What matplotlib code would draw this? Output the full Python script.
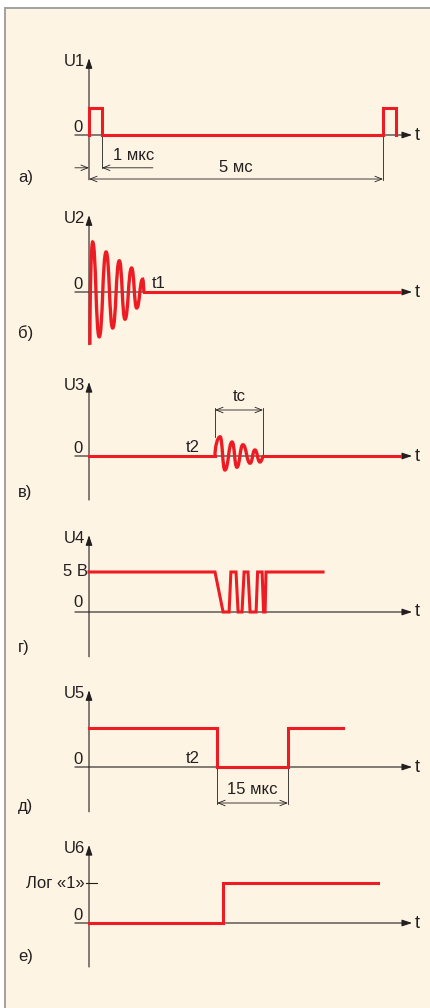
import matplotlib
matplotlib.use("Agg")
import matplotlib.pyplot as plt
from matplotlib.patches import Rectangle, PathPatch
from matplotlib.path import Path

plt.rcParams['font.family'] = ['Liberation Sans Narrow', 'Liberation Sans', 'DejaVu Sans']

W, H = 430, 1008
X0 = 89          # pixel column of the vertical axes
SX, SY = 3.0, 8.0  # pixels per time unit / per level unit
RED = '#ed1c24'
INK = '#231f20'
FS = 12

# --- data (time units, level units) ---
# a) U1 start pulses
a_t = [0, 0, 4.3, 98, 102.3]
a_v = [0, 3.4, 0, 3.4, 0]

# b) U2 decaying oscillation (extrema), then flat
b_t = [0.3, 1.2, 3.4, 5.7, 7.9, 10.1, 12.0, 14.2, 15.9, 17.9, 18.3]
b_v = [-6.6, 6.25, -5.6, 5.0, -4.5, 3.9, -3.4, 3.0, -2.0, 1.6, 0]
b_end = 103.7

# c) U3 echo burst (extrema)
c_t = [42, 43.7, 45.3, 47.7, 49.3, 51.3, 53.7, 55.3, 57, 58]
c_v = [0, 2.4, -1.75, 1.75, -1.4, 1.4, -0.9, 0.75, -0.75, 0]
c_end = 103.7

# d) U4 comparator output
d_t = [0, 42, 44.7, 46.7, 47.3, 49, 49.7, 51, 51.7, 53, 53.7, 55.7, 56.2,
       57.7, 58.2, 58.7, 59, 78]
d_v = [5, 5, 0, 0, 5, 5, 0, 0, 5, 5, 0, 0, 5, 5, 0, 0, 5, 5]

# e) U5 one-shot, 15 us
e_t = [0, 42.7, 66.3, 84.7]
e_v = [4.9, 0, 4.9, 4.9]

# f) U6 logic output
f_t = [0, 44.7, 96.3]
f_v = [0, 5, 5]

ylabels = ['U1', 'U2', 'U3', 'U4', 'U5', 'U6']
letters = ['а)', 'б)', 'в)', 'г)', 'д)', 'е)']
baselines = [135, 292, 456, 612, 767, 923]
axis_top = [9.6, 9.6, 9.25, 9.6, 9.6, 9.75]
axis_bot = [-5.6, -6.6, -5.5, -5.6, -5.6, -5.5]
letter_v = [-5.25, -5.1, -4.6, -4.4, -5.0, -4.25]

fig = plt.figure(figsize=(W / 100, H / 100), dpi=100, facecolor='white')
fig.add_artist(Rectangle((4 / W, 0), 1, 1 - 7 / H, transform=fig.transFigure,
                         facecolor='#a3a3a3', edgecolor='none', zorder=-10))
fig.add_artist(Rectangle((6 / W, 0), 1, 1 - 9 / H, transform=fig.transFigure,
                         facecolor='#fdf4e3', edgecolor='none', zorder=-9))

ARW = dict(arrowstyle='-|>,head_length=0.6,head_width=0.2', color=INK, lw=0.8,
           shrinkA=0, shrinkB=0, mutation_scale=10)
DIM = dict(arrowstyle='<->,head_length=0.5,head_width=0.2', color=INK, lw=0.6,
           shrinkA=0, shrinkB=0, mutation_scale=10)


def smooth(ax, ts, vs, k=0.5):
    verts = [(ts[0], vs[0])]
    codes = [Path.MOVETO]
    n = len(ts)
    for i in range(1, n):
        t0, v0, t1, v1 = ts[i - 1], vs[i - 1], ts[i], vs[i]
        dt = t1 - t0
        c1 = (t0 + k * dt, v0) if i > 1 else (t0, v0 + 0.5 * (v1 - v0))
        c2 = (t1 - k * dt, v1) if i < n - 1 else (t1, v1)
        verts += [c1, c2, (t1, v1)]
        codes += [Path.CURVE4] * 3
    ax.add_patch(PathPatch(Path(verts, codes), fill=False, edgecolor=RED,
                           lw=2.4, zorder=5, clip_on=False))


axes = []
for i, base in enumerate(baselines):
    ax = fig.add_axes([0, 0, 1, 1])
    ax.set_xlim(-X0 / SX, (W - X0) / SX)
    ax.set_ylim((base - H) / SY, base / SY)
    ax.axis('off')
    # axes with arrows
    ax.annotate('', xy=(0, axis_top[i]), xytext=(0, axis_bot[i]), arrowprops=ARW)
    ax.annotate('', xy=(107.7, 0), xytext=(-4.7, 0), arrowprops=ARW)
    ax.text(108.5, 0, 't', fontsize=FS + 1, color=INK, ha='left', va='center')
    ax.text(-1.3, axis_top[i] - 0.4, ylabels[i], fontsize=FS, color=INK,
            ha='right', va='center')
    ax.text(-23.7, letter_v[i], letters[i], fontsize=FS, color=INK,
            ha='left', va='center')
    if i != 5 and i != 3:
        ax.text(-2, 0.4, '0', fontsize=FS, color=INK, ha='right', va='baseline')
    axes.append(ax)

# a)
ax = axes[0]
ax.plot(a_t, a_v, drawstyle='steps-post', color=RED, lw=2.2, zorder=5,
        solid_joinstyle='miter')
ax.annotate('', xy=(0, -4.1), xytext=(-4.7, -4.1),
            arrowprops=dict(DIM, arrowstyle='->,head_length=0.5,head_width=0.2'))
ax.annotate('', xy=(4.3, -4.1), xytext=(21.3, -4.1),
            arrowprops=dict(DIM, arrowstyle='->,head_length=0.5,head_width=0.2'))
ax.plot([4.3, 4.3], [0, -4.1], color=INK, lw=0.6)
ax.text(8, -2.5, '1 мкс', fontsize=FS, color=INK, ha='left', va='center')
ax.annotate('', xy=(0, -5.5), xytext=(98, -5.5), arrowprops=DIM)
ax.plot([98, 98], [0, -5.6], color=INK, lw=0.6)
ax.text(49, -4.1, '5 мс', fontsize=FS, color=INK, ha='center', va='center')

# b)
ax = axes[1]
smooth(ax, b_t, b_v)
ax.plot([b_t[-1], b_end], [0, 0], color=RED, lw=2.2, zorder=5)
ax.text(21, 1.1, 't1', fontsize=FS, color=INK, ha='left', va='center')

# c)
ax = axes[2]
ax.plot([0, c_t[0]], [0, 0], color=RED, lw=2.2, zorder=5)
smooth(ax, c_t, c_v)
ax.plot([c_t[-1], c_end], [0, 0], color=RED, lw=2.2, zorder=5)
ax.plot([c_t[0], c_t[0]], [6, c_v[1]], color=INK, lw=0.6)
ax.plot([c_t[-1], c_t[-1]], [6, 0], color=INK, lw=0.6)
ax.annotate('', xy=(c_t[0], 5.75), xytext=(c_t[-1], 5.75), arrowprops=DIM)
ax.text((c_t[0] + c_t[-1]) / 2, 7.4, 'tc', fontsize=FS, color=INK,
        ha='center', va='center')
ax.text(37, 1.1, 't2', fontsize=FS, color=INK, ha='right', va='center')

# d)
ax = axes[3]
ax.plot(d_t, d_v, color=RED, lw=2.2, zorder=5, solid_joinstyle='miter')
ax.text(-2, 1.2, '0', fontsize=FS, color=INK, ha='right', va='center')
ax.text(-0.5, 5, '5 В', fontsize=FS, color=INK, ha='right', va='center')

# e)
ax = axes[4]
ax.plot(e_t, e_v, drawstyle='steps-post', color=RED, lw=2.2, zorder=5,
        solid_joinstyle='miter')
for tx in (e_t[1], e_t[2]):
    ax.plot([tx, tx], [0, -4.6], color=INK, lw=0.6)
ax.annotate('', xy=(e_t[1], -4.5), xytext=(e_t[2], -4.5), arrowprops=DIM)
ax.text((e_t[1] + e_t[2]) / 2, -2.75, '15 мкс', fontsize=FS, color=INK,
        ha='center', va='center')
ax.text(37, 1.1, 't2', fontsize=FS, color=INK, ha='right', va='center')

# f)
ax = axes[5]
ax.plot(f_t, f_v, drawstyle='steps-post', color=RED, lw=2.2, zorder=5,
        solid_joinstyle='miter')
ax.plot([-1, 2.7], [5, 5], color=INK, lw=0.8)
ax.text(-1.3, 5, 'Лог «1»', fontsize=FS, color=INK, ha='right', va='center')
ax.text(-2, 0.4, '0', fontsize=FS, color=INK, ha='right', va='baseline')

fig.savefig('out.png', dpi=100, facecolor='white')
